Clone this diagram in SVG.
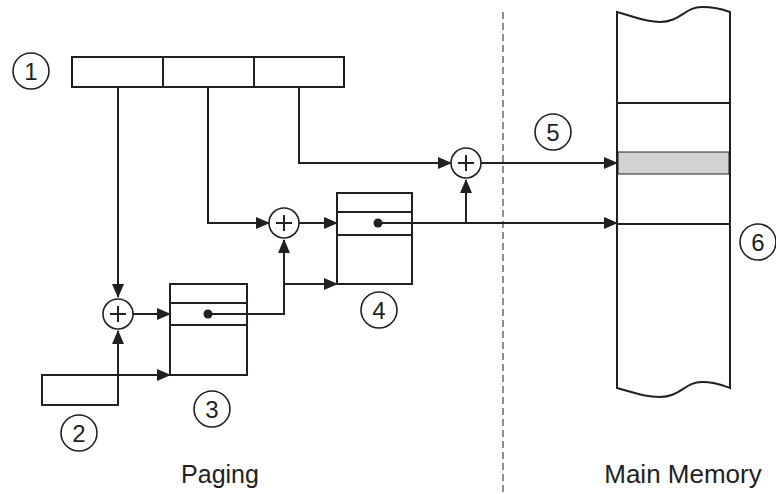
<svg xmlns="http://www.w3.org/2000/svg" width="776" height="494" viewBox="0 0 776 494">
<style>
.s{fill:none;stroke:#231f20;stroke-width:2}
.b{fill:#fff;stroke:#231f20;stroke-width:2}
.t{font-family:"Liberation Sans",Arial,sans-serif;fill:#231f20}
.n{font-family:"Liberation Sans",Arial,sans-serif;font-size:24px;fill:#231f20;text-anchor:middle}
.c{fill:#fff;stroke:#231f20;stroke-width:1.6}
</style>
<defs>
<marker id="a" markerWidth="14" markerHeight="12" refX="13" refY="6" orient="auto" markerUnits="userSpaceOnUse">
<path d="M0,0 L14,6 L0,12 Z" fill="#231f20"/>
</marker>
</defs>
<g id="divider"><line x1="503" y1="12" x2="503" y2="494" stroke="#231f20" stroke-width="1" stroke-dasharray="7,4"/></g>
<g id="register">
<rect class="b" x="72" y="57" width="272" height="30"/>
<line class="s" x1="163" y1="57" x2="163" y2="87"/>
<line class="s" x1="254" y1="57" x2="254" y2="87"/>
</g>
<g id="base-register"><rect class="b" x="42" y="375" width="76" height="30"/></g>
<g id="table3">
<rect class="b" x="170" y="284" width="77" height="91"/>
<line class="s" x1="170" y1="303" x2="247" y2="303"/>
<line class="s" x1="170" y1="325" x2="247" y2="325"/>
<circle cx="208" cy="314" r="4.5" fill="#231f20"/>
</g>
<g id="table4">
<rect class="b" x="337" y="193" width="75" height="91"/>
<line class="s" x1="337" y1="212" x2="412" y2="212"/>
<line class="s" x1="337" y1="235" x2="412" y2="235"/>
<circle cx="378" cy="223" r="4.5" fill="#231f20"/>
</g>
<g id="memory">
<path class="b" d="M617,12 C635,17 645,22 660,22 C680,22 685,7 702,7 C715,7 722,9 730,12 L730,388 C722,385 715,382 702,382 C685,382 680,397 660,397 C645,397 635,393 617,388 Z"/>
<rect x="618" y="152" width="111" height="22" fill="#d1d3d4" stroke="#231f20" stroke-width="1"/>
<line class="s" x1="617" y1="103" x2="730" y2="103"/>
<line class="s" x1="617" y1="224" x2="730" y2="224"/>
</g>
<g id="connectors">
<polyline class="s" points="118,87 118,297" marker-end="url(#a)"/>
<polyline class="s" points="118,375 118,331" marker-end="url(#a)"/>
<polyline class="s" points="118,375 170,375" marker-end="url(#a)"/>
<polyline class="s" points="132,314 170,314" marker-end="url(#a)"/>
<polyline class="s" points="208,87 208,223 269,223" marker-end="url(#a)"/>
<polyline class="s" points="299,223 337,223" marker-end="url(#a)"/>
<polyline class="s" points="208,314 284,314 284,240" marker-end="url(#a)"/>
<polyline class="s" points="284,284 337,284" marker-end="url(#a)"/>
<polyline class="s" points="299,87 299,163 451,163" marker-end="url(#a)"/>
<polyline class="s" points="481,163 617,163" marker-end="url(#a)"/>
<polyline class="s" points="378,223 617,223" marker-end="url(#a)"/>
<polyline class="s" points="466,223 466,180" marker-end="url(#a)"/>
</g>
<g id="adder1"><circle class="c" cx="118" cy="314" r="15"/><path class="s" stroke-width="1.3" d="M110,314 H126 M118,306 V322"/></g>
<g id="adder2"><circle class="c" cx="284" cy="223" r="15"/><path class="s" stroke-width="1.3" d="M276,223 H292 M284,215 V231"/></g>
<g id="adder3"><circle class="c" cx="466" cy="163" r="15"/><path class="s" stroke-width="1.3" d="M458,163 H474 M466,155 V171"/></g>
<g id="label1"><circle class="c" cx="31" cy="71" r="18"/><text class="n" x="31" y="79.5">1</text></g>
<g id="label2"><circle class="c" cx="79" cy="433" r="18"/><text class="n" x="79" y="441.5">2</text></g>
<g id="label3"><circle class="c" cx="212" cy="409" r="18"/><text class="n" x="212" y="417.5">3</text></g>
<g id="label4"><circle class="c" cx="379" cy="310" r="18"/><text class="n" x="379" y="318.5">4</text></g>
<g id="label5"><circle class="c" cx="553" cy="132" r="18"/><text class="n" x="553" y="140.5">5</text></g>
<g id="label6"><circle class="c" cx="758" cy="242" r="18"/><text class="n" x="758" y="250.5">6</text></g>
<g id="captions">
<text class="t" x="220" y="483" font-size="25" text-anchor="middle">Paging</text>
<text class="t" x="683" y="483" font-size="26" text-anchor="middle">Main Memory</text>
</g>
</svg>
